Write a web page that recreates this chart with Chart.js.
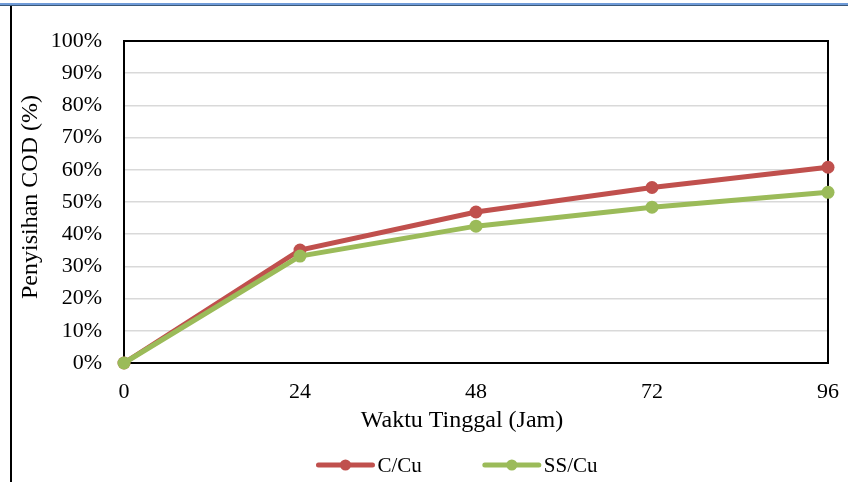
<!DOCTYPE html>
<html>
<head>
<meta charset="utf-8">
<script src="https://cdn.jsdelivr.net/npm/chart.js@4.4.1/dist/chart.umd.min.js"></script>
<style>
  html, body { margin: 0; padding: 0; background: #fff; }
  #wrap { position: relative; width: 848px; height: 482px; overflow: hidden; background: #fff; }
  #chart { position: absolute; left: 0; top: 0; }
  .rule { position: absolute; z-index: 2; }
  #topRule { left: 0; top: 3px; width: 848px; height: 2px; background: #6F9BD8; }
  #topRuleEdge { left: 0; top: 5px; width: 848px; height: 1px; background: #3A5878; }
  #leftRule { left: 10px; top: 6px; width: 2px; height: 476px; background: #000; }
</style>
</head>
<body>
<div id="wrap">
  <canvas id="chart" width="848" height="482"></canvas>
  <div class="rule" id="topRule"></div>
  <div class="rule" id="topRuleEdge"></div>
  <div class="rule" id="leftRule"></div>
</div>
<script>
// Residence time (hours) and COD removal (%) for each electrode pair
const hours = [0, 24, 48, 72, 96];
const seriesNames = ['C/Cu', 'SS/Cu'];
const removalCCu = [0, 35.1, 46.9, 54.5, 60.8];
const removalSSCu = [0, 33.2, 42.5, 48.4, 53.0];
const yTickValues = [0, 10, 20, 30, 40, 50, 60, 70, 80, 90, 100];
const xTitle = 'Waktu Tinggal (Jam)';
const yTitle = 'Penyisihan COD (%)';

const FONT_FAMILY = "'Liberation Serif', 'Times New Roman', serif";
const TICK_SIZE = 22;
const TITLE_SIZE = 24;
const LEGEND_SIZE = 21;

const toPoints = vals => hours.map((h, i) => ({ x: h, y: vals[i] }));

// Black box around the plotting area, drawn under the lines and markers
const plotFrame = {
  id: 'plotFrame',
  beforeDatasetsDraw(chart) {
    const { ctx, chartArea: a } = chart;
    ctx.save();
    ctx.strokeStyle = '#000';
    ctx.lineWidth = 2;
    ctx.strokeRect(a.left, a.top, a.right - a.left, a.bottom - a.top);
    ctx.restore();
  }
};

// Axis titles, placed relative to the plotting area
const axisTitles = {
  id: 'axisTitles',
  afterDraw(chart, args, opts) {
    const { ctx, chartArea: a } = chart;
    ctx.save();
    ctx.font = `${opts.size}px ${opts.family}`;
    ctx.fillStyle = '#000';
    ctx.textAlign = 'center';
    ctx.textBaseline = 'middle';
    ctx.fillText(opts.x.text, (a.left + a.right) / 2 + opts.x.dx, a.bottom + opts.x.gap);
    ctx.translate(opts.y.left, (a.top + a.bottom) / 2 + opts.y.dy);
    ctx.rotate(-Math.PI / 2);
    ctx.fillText(opts.y.text, 0, 0);
    ctx.restore();
  }
};

// Legend entries drawn as a short line with a marker in the middle
const lineLegend = {
  id: 'lineLegend',
  afterDraw(chart, args, opts) {
    const ctx = chart.ctx;
    ctx.save();
    ctx.font = `${opts.size}px ${opts.family}`;
    const items = chart.data.datasets.map(ds => ({
      ds,
      w: opts.lineLen + opts.textGap + ctx.measureText(ds.label).width
    }));
    const total = items.reduce((s, it) => s + it.w, 0) + opts.itemGap * (items.length - 1);
    let x = opts.centerX - total / 2;
    const y = opts.y;
    items.forEach(({ ds, w }) => {
      ctx.strokeStyle = ds.borderColor;
      ctx.lineWidth = ds.borderWidth;
      ctx.lineCap = 'round';
      ctx.beginPath();
      ctx.moveTo(x, y);
      ctx.lineTo(x + opts.lineLen, y);
      ctx.stroke();
      ctx.fillStyle = ds.pointBackgroundColor;
      ctx.beginPath();
      ctx.arc(x + opts.lineLen / 2, y, opts.markerRadius, 0, Math.PI * 2);
      ctx.fill();
      ctx.fillStyle = '#000';
      ctx.textBaseline = 'middle';
      ctx.textAlign = 'left';
      ctx.fillText(ds.label, x + opts.lineLen + opts.textGap, y + 1);
      x += w + opts.itemGap;
    });
    ctx.restore();
  }
};

const series = [
  { label: seriesNames[0], values: removalCCu, color: '#C0504D', order: 2 },
  { label: seriesNames[1], values: removalSSCu, color: '#9BBB59', order: 1 }
];

new Chart(document.getElementById('chart'), {
  type: 'line',
  data: {
    datasets: series.map(s => ({
      label: s.label,
      data: toPoints(s.values),
      borderColor: s.color,
      backgroundColor: s.color,
      pointBackgroundColor: s.color,
      pointBorderColor: s.color,
      borderWidth: 5,
      pointRadius: 6.5,
      pointBorderWidth: 0,
      tension: 0,
      clip: false,
      order: s.order
    }))
  },
  options: {
    responsive: false,
    animation: false,
    devicePixelRatio: 1,
    layout: { padding: { top: 41, right: 20, left: 0, bottom: 0 } },
    plugins: {
      legend: { display: false },
      tooltip: { enabled: false },
      axisTitles: {
        family: FONT_FAMILY, size: TITLE_SIZE,
        x: { text: xTitle, dx: -14, gap: 58 },
        y: { text: yTitle, left: 31, dy: -5 }
      },
      lineLegend: {
        family: FONT_FAMILY, size: LEGEND_SIZE,
        lineLen: 54, textGap: 5, itemGap: 63, markerRadius: 5.5,
        centerX: 458, y: 465
      }
    },
    scales: {
      x: {
        type: 'linear',
        min: hours[0],
        max: hours[hours.length - 1],
        afterBuildTicks: scale => { scale.ticks = hours.map(v => ({ value: v })); },
        afterFit: scale => {
          scale.height = 119;
          scale.paddingLeft = 0;
          scale.paddingRight = 0;
        },
        grid: { display: false, drawTicks: false },
        border: { display: false },
        ticks: {
          color: '#000',
          padding: 16,
          maxRotation: 0,
          font: { family: FONT_FAMILY, size: TICK_SIZE }
        }
      },
      y: {
        min: 0,
        max: 100,
        afterBuildTicks: scale => { scale.ticks = yTickValues.map(v => ({ value: v })); },
        afterFit: scale => { scale.width = 124; },
        grid: { color: '#D9D9D9', lineWidth: 1.5, drawTicks: false },
        border: { display: false },
        ticks: {
          color: '#000',
          padding: 22,
          font: { family: FONT_FAMILY, size: TICK_SIZE },
          callback: v => v + '%'
        }
      }
    }
  },
  plugins: [plotFrame, axisTitles, lineLegend]
});
</script>
</body>
</html>
